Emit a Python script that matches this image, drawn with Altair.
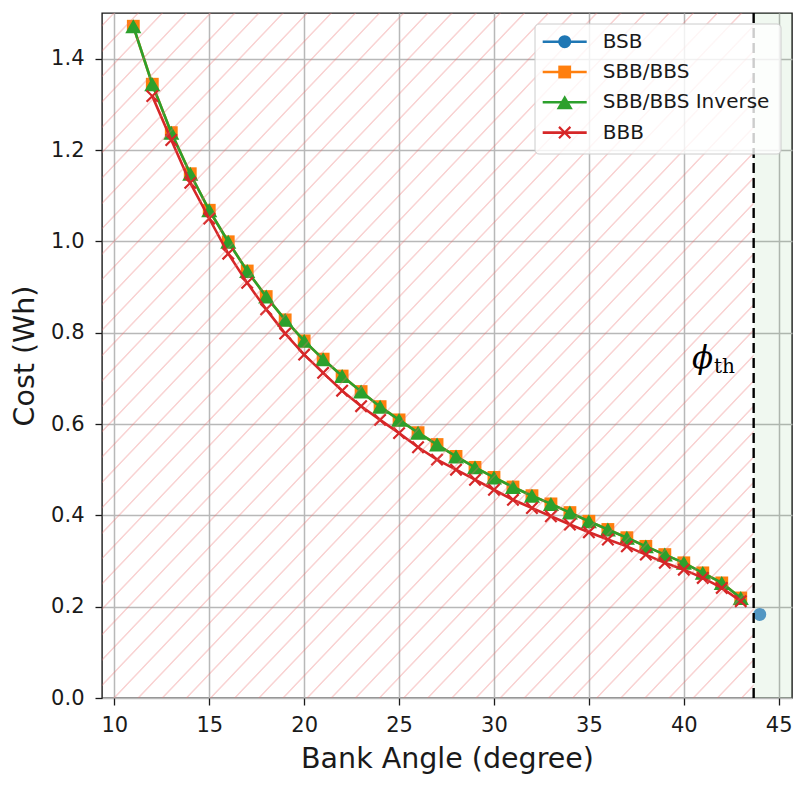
import altair as alt
import pandas as pd

# bank angle (degree) -> cost (Wh)
angles = list(range(11, 44))
sbb_bbs = [1.471, 1.344, 1.238, 1.148, 1.068, 0.999, 0.935, 0.879, 0.828, 0.782,
           0.742, 0.705, 0.671, 0.638, 0.609, 0.581, 0.555, 0.529, 0.505, 0.483,
           0.462, 0.443, 0.425, 0.406, 0.387, 0.369, 0.351, 0.332, 0.314, 0.296,
           0.274, 0.252, 0.219]
sbb_bbs_inv = [1.471, 1.344, 1.238, 1.148, 1.068, 0.999, 0.935, 0.879, 0.828, 0.782,
               0.742, 0.705, 0.671, 0.638, 0.609, 0.581, 0.555, 0.529, 0.505, 0.483,
               0.462, 0.443, 0.425, 0.406, 0.387, 0.369, 0.351, 0.332, 0.314, 0.296,
               0.274, 0.252, 0.219]
bbb_angles = list(range(12, 44))
bbb = [1.318, 1.222, 1.128, 1.050, 0.973, 0.909, 0.851, 0.798, 0.752, 0.712,
       0.673, 0.639, 0.609, 0.580, 0.549, 0.522, 0.500, 0.478, 0.456, 0.434,
       0.416, 0.398, 0.380, 0.363, 0.347, 0.332, 0.314, 0.296, 0.281, 0.263,
       0.241, 0.212]
bsb_angles = [44]
bsb = [0.183]
phi_th = 43.68

SERIES = ["BSB", "SBB/BBS", "SBB/BBS Inverse", "BBB"]
COLORS = ["#1f77b4", "#ff7f0e", "#2ca02c", "#d62728"]
X_PATH = "M-1,-1L1,1M-1,1L1,-1"
SHAPES = ["circle", "square", "triangle-up", X_PATH]
SIZES = [170, 165, 260, 130]

series_data = {
    "BSB": (bsb_angles, bsb),
    "SBB/BBS": (angles, sbb_bbs),
    "SBB/BBS Inverse": (angles, sbb_bbs_inv),
    "BBB": (bbb_angles, bbb),
}

W, H = 690, 685
X_DOM = [9.35, 45.7]
Y_DOM = [0, 1.5]
FONT = "DejaVu Sans"
INK = "#1a1a1a"
LW = 2.6


def marker(chart, shp, col, size, opacity=1):
    if shp == X_PATH:
        return chart.mark_point(shape=shp, color=col, filled=False, size=size,
                                strokeWidth=2.2, opacity=opacity)
    return chart.mark_point(shape=shp, color=col, filled=True, size=size,
                            opacity=opacity, strokeWidth=0)


x_enc = alt.X(
    "angle:Q",
    scale=alt.Scale(domain=X_DOM, nice=False, zero=False),
    axis=alt.Axis(
        values=list(range(10, 46, 5)), format="d", title="Bank Angle (degree)",
        labelPadding=9, titleY=69, titleBaseline="alphabetic",
    ),
)
y_enc = alt.Y(
    "cost:Q",
    scale=alt.Scale(domain=Y_DOM, nice=False),
    axis=alt.Axis(
        values=[0, 0.2, 0.4, 0.6, 0.8, 1.0, 1.2, 1.4], format=".1f", title="Cost (Wh)",
        labelPadding=11, titleX=-69, titleY=H / 2, titleBaseline="alphabetic",
    ),
)

layers = []

# shaded safe region
safe = pd.DataFrame({"angle": [phi_th], "angle_end": [X_DOM[1]]})
layers.append(
    alt.Chart(safe).mark_rect(color="#2ca02c", opacity=0.07)
    .encode(x=x_enc, x2="angle_end:Q", y=alt.value(0), y2=alt.value(H))
)

# curves, drawn series by series like matplotlib
for name, col, shp, sz in zip(SERIES, COLORS, SHAPES, SIZES):
    xs, ys = series_data[name]
    d = pd.DataFrame({"angle": xs, "cost": ys, "series": name})
    base = alt.Chart(d).encode(x=x_enc, y=y_enc)
    layers.append(base.mark_line(color=col, strokeWidth=LW))
    layers.append(marker(base, shp, col, sz, opacity=0.75 if name == "BSB" else 1))

# hatch over the unsafe region (diagonal stripes from a gradient)
PINK = "rgba(235,110,110,0.3)"
CLEAR = "rgba(235,110,110,0)"
n_stripes = 54
hw = 0.0012
stops = [alt.GradientStop(offset=0, color=CLEAR)]
for i in range(n_stripes):
    c = (i + 0.5) / n_stripes
    stops += [
        alt.GradientStop(offset=c - hw, color=CLEAR),
        alt.GradientStop(offset=c - hw / 3, color=PINK),
        alt.GradientStop(offset=c + hw / 3, color=PINK),
        alt.GradientStop(offset=c + hw, color=CLEAR),
    ]
stops.append(alt.GradientStop(offset=1, color=CLEAR))
hatch_fill = alt.LinearGradient(gradient="linear", stops=stops, x1=0, y1=0, x2=1, y2=1)
unsafe = pd.DataFrame({"angle": [X_DOM[0]], "angle_end": [phi_th]})
layers.append(
    alt.Chart(unsafe).mark_rect(fill=hatch_fill, strokeWidth=0)
    .encode(x=x_enc, x2="angle_end:Q", y=alt.value(0), y2=alt.value(H))
)

# threshold line and label
thr = pd.DataFrame({"angle": [phi_th]})
layers.append(
    alt.Chart(thr).mark_rule(color="black", strokeWidth=2.4, strokeDash=[10, 5])
    .encode(x=x_enc)
)
one = pd.DataFrame({"k": [0]})
layers.append(
    alt.Chart(one).mark_text(text="ϕ", font="DejaVu Serif", fontStyle="italic", fontSize=31,
                             align="left", baseline="alphabetic", color="black")
    .encode(x=alt.value(590), y=alt.value(355))
)
layers.append(
    alt.Chart(one).mark_text(text="th", font="DejaVu Serif", fontSize=20,
                             align="left", baseline="alphabetic", color="black")
    .encode(x=alt.value(612), y=alt.value(360))
)

# legend box (upper right, inside the axes)
layers.append(
    alt.Chart(one).mark_rect(fill="white", fillOpacity=0.8, stroke="#cccccc",
                             strokeWidth=1, cornerRadius=4)
    .encode(x=alt.value(433), x2=alt.value(679), y=alt.value(11), y2=alt.value(141))
)
for i, (name, col, shp, sz) in enumerate(zip(SERIES, COLORS, SHAPES, SIZES)):
    ly = 28.7 + 30.3 * i
    layers.append(
        alt.Chart(one).mark_rule(color=col, strokeWidth=LW)
        .encode(x=alt.value(440.7), x2=alt.value(484.7), y=alt.value(ly))
    )
    layers.append(marker(alt.Chart(one), shp, col, sz).encode(x=alt.value(462.7), y=alt.value(ly)))
    layers.append(
        alt.Chart(one).mark_text(text=name, font=FONT, fontSize=20, align="left",
                                 baseline="middle", color=INK)
        .encode(x=alt.value(500.7), y=alt.value(ly))
    )

chart = (
    alt.layer(*layers)
    .properties(
        width=W, height=H,
        autosize=alt.AutoSizeParams(type="none"),
        padding={"left": 94, "top": 5, "right": 4, "bottom": 80},
    )
    .configure_axis(
        labelFont=FONT, labelFontSize=21, labelColor=INK,
        titleFont=FONT, titleFontSize=28.5, titleFontWeight="normal", titleColor=INK,
        grid=True, gridColor="#b8b8b8", gridWidth=1.5,
        domain=False, tickColor=INK, tickSize=7, tickWidth=1.3,
    )
    .configure_view(stroke=INK, strokeWidth=1.4)
)

chart.save("out.html", embed_options={"renderer": "svg", "actions": False})
